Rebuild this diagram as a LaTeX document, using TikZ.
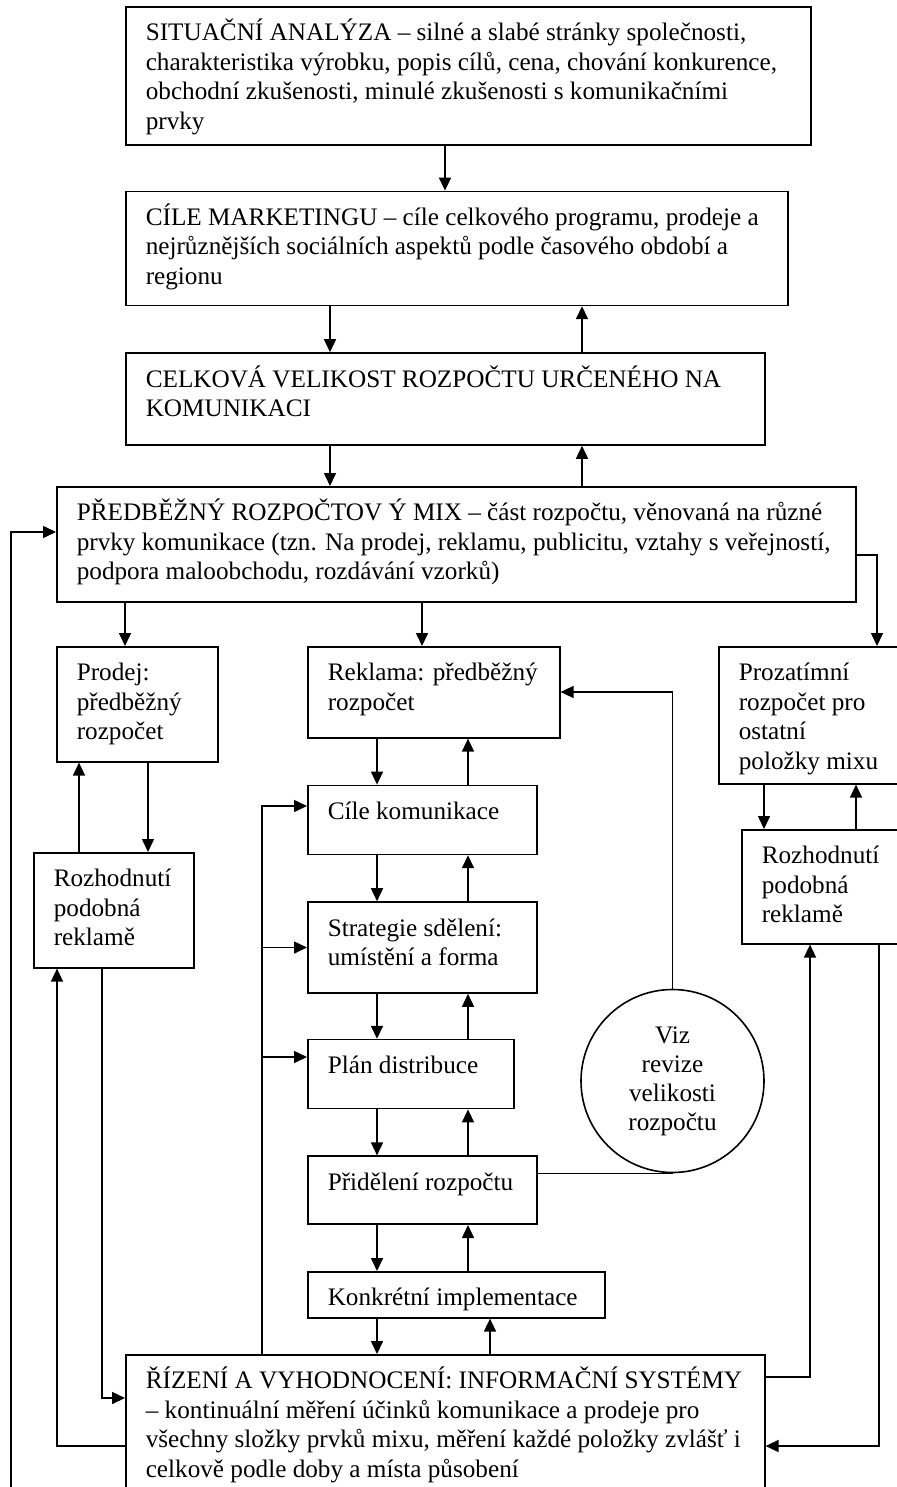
\documentclass[tikz,border=0pt]{standalone}
\usepackage{fontspec}
\setmainfont{Liberation Serif}
\usetikzlibrary{positioning}
\usetikzlibrary{arrows.meta,shapes}

% box text: width, height, lines (top aligned, 20pt indent)
\newcommand{\cell}[3]{\parbox[c][#2][t]{#1}{\raggedright\leftskip=20pt\rule{0pt}{34pt}#3}}

\begin{document}
\begin{tikzpicture}[x=1pt,y=-1pt,line width=1.6pt,>={Triangle[length=13pt,width=12pt]},
  blok/.style={draw,rectangle,inner sep=0pt,anchor=north west,font=\fontsize{25.2}{29.5}\selectfont},
  kruh/.style={draw,circle,inner sep=0pt,minimum size=183pt,align=center,font=\fontsize{25.2}{29}\selectfont}]
   \useasboundingbox (0,0) rectangle (896,1487);
   \node[blok] (sit) at (125,6) {\cell{685pt}{138pt}{SITUAČNÍ ANALÝZA – silné a slabé stránky společnosti,\\ charakteristika výrobku, popis cílů, cena, chování konkurence,\\ obchodní zkušenosti, minulé zkušenosti s komunikačními\\ prvky}};
   \node[blok, below=45pt of sit.south west, anchor=north west] (cil) {\cell{662pt}{114pt}{CÍLE MARKETINGU – cíle celkového programu, prodeje a\\ nejrůznějších sociálních aspektů podle časového období a\\ regionu}};
   \node[blok, below=46pt of cil.south west, anchor=north west] (celk) {\cell{639pt}{92pt}{CELKOVÁ VELIKOST ROZPOČTU URČENÉHO NA\\ KOMUNIKACI}};
   \node[blok] (mix) at (56,486) {\cell{799pt}{115pt}{PŘEDBĚŽNÝ ROZPOČTOV Ý MIX – část rozpočtu, věnovaná na různé\\ prvky komunikace (tzn. Na prodej, reklamu, publicitu, vztahy s veřejností,\\ podpora maloobchodu, rozdávání vzorků)}};
   \node[blok] (prodej) at (56,646) {\cell{161pt}{115pt}{Prodej:\\ předběžný\\ rozpočet}};
   \node[blok] (rekl) at (307,646) {\cell{252pt}{91pt}{Reklama: předběžný\\ rozpočet}};
   \node[blok] (proz) at (718,646) {\cell{190pt}{137pt}{Prozatímní\\ rozpočet pro\\ ostatní\\ položky mixu}};
   \node[blok, below=46pt of rekl.south west, anchor=north west] (cilk) {\cell{229pt}{69pt}{Cíle komunikace}};
   \node[blok, below=46pt of cilk.south west, anchor=north west] (strat) {\cell{229pt}{91pt}{Strategie sdělení:\\ umístění a forma}};
   \node[blok, below=45pt of strat.south west, anchor=north west] (plan) {\cell{206pt}{69pt}{Plán distribuce}};
   \node[blok, below=46pt of plan.south west, anchor=north west] (prid) {\cell{229pt}{68pt}{Přidělení rozpočtu}};
   \node[blok, below=46pt of prid.south west, anchor=north west] (konk) {\cell{297pt}{46pt}{Konkrétní implementace}};
   \node[blok] (rozhL) at (33,852) {\cell{160pt}{115pt}{Rozhodnutí\\ podobná\\ reklamě}};
   \node[blok] (rozhR) at (741,829) {\cell{170pt}{114pt}{Rozhodnutí\\ podobná\\ reklamě}};
   \node[blok] (riz) at (125,1354) {\cell{639pt}{160pt}{ŘÍZENÍ A VYHODNOCENÍ: INFORMAČNÍ SYSTÉMY\\ – kontinuální měření účinků komunikace a prodeje pro\\ všechny složky prvků mixu, měření každé položky zvlášť i\\ celkově podle doby a místa působení}};
   \node[kruh] (viz) at (672.5,1081) {Viz\\ revize\\ velikosti\\ rozpočtu};
   \coordinate (zpet) at (riz.north -| 262,0);
   \coordinate (dole) at (11,1500);
   % top part
   \draw[->] (sit.south -| 445,0) -- (cil.north -| 445,0);
   \draw[->] (cil.south -| 330,0) -- (celk.north -| 330,0);
   \draw[->] (celk.north -| 582,0) -- (cil.south -| 582,0);
   \draw[->] (celk.south -| 330,0) -- (mix.north -| 330,0);
   \draw[->] (mix.north -| 582,0) -- (celk.south -| 582,0);
   \draw[->] (mix.south -| 125,0) -- (prodej.north -| 125,0);
   \draw[->] (mix.south -| 422,0) -- (rekl.north -| 422,0);
   \draw[->] (mix.east |- 0,555) -| (proz.north -| 877,0);
   \draw[->] (dole) |- (mix.west |- 0,532);
   % left column
   \draw[->] (prodej.south -| 148,0) -- (rozhL.north -| 148,0);
   \draw[->] (rozhL.north -| 79,0) -- (prodej.south -| 79,0);
   \draw[->] (rozhL.south -| 102,0) |- (riz.west |- 0,1398);
   \draw[->] (riz.west |- 0,1446) -| (rozhL.south -| 57,0);
   % middle column
   \draw[->] (rekl.south -| 377,0) -- (cilk.north -| 377,0);
   \draw[->] (cilk.north -| 468,0) -- (rekl.south -| 468,0);
   \draw[->] (cilk.south -| 377,0) -- (strat.north -| 377,0);
   \draw[->] (strat.north -| 468,0) -- (cilk.south -| 468,0);
   \draw[->] (strat.south -| 377,0) -- (plan.north -| 377,0);
   \draw[->] (plan.north -| 468,0) -- (strat.south -| 468,0);
   \draw[->] (plan.south -| 377,0) -- (prid.north -| 377,0);
   \draw[->] (prid.north -| 468,0) -- (plan.south -| 468,0);
   \draw[->] (prid.south -| 377,0) -- (konk.north -| 377,0);
   \draw[->] (konk.north -| 468,0) -- (prid.south -| 468,0);
   \draw[->] (konk.south -| 377,0) -- (riz.north -| 377,0);
   \draw[->] (riz.north -| 490,0) -- (konk.south -| 490,0);
   \draw[->] (zpet) |- (cilk.west |- 0,806);
   \draw[->] (zpet |- strat.west) -- (strat.west);
   \draw[->] (zpet |- 0,1057) -- (plan.west |- 0,1057);
   \draw (prid.east |- viz.south) -- (viz.south);
   \draw[->] (viz.north) |- (rekl.east |- 0,692);
   % right column
   \draw[->] (proz.south -| 764,0) -- (rozhR.north -| 764,0);
   \draw[->] (rozhR.north -| 856,0) -- (proz.south -| 856,0);
   \draw[->] (riz.east |- 0,1377) -| (rozhR.south -| 810,0);
   \draw[->] (rozhR.south -| 879,0) |- (riz.east |- 0,1446);
\end{tikzpicture}
\end{document}
